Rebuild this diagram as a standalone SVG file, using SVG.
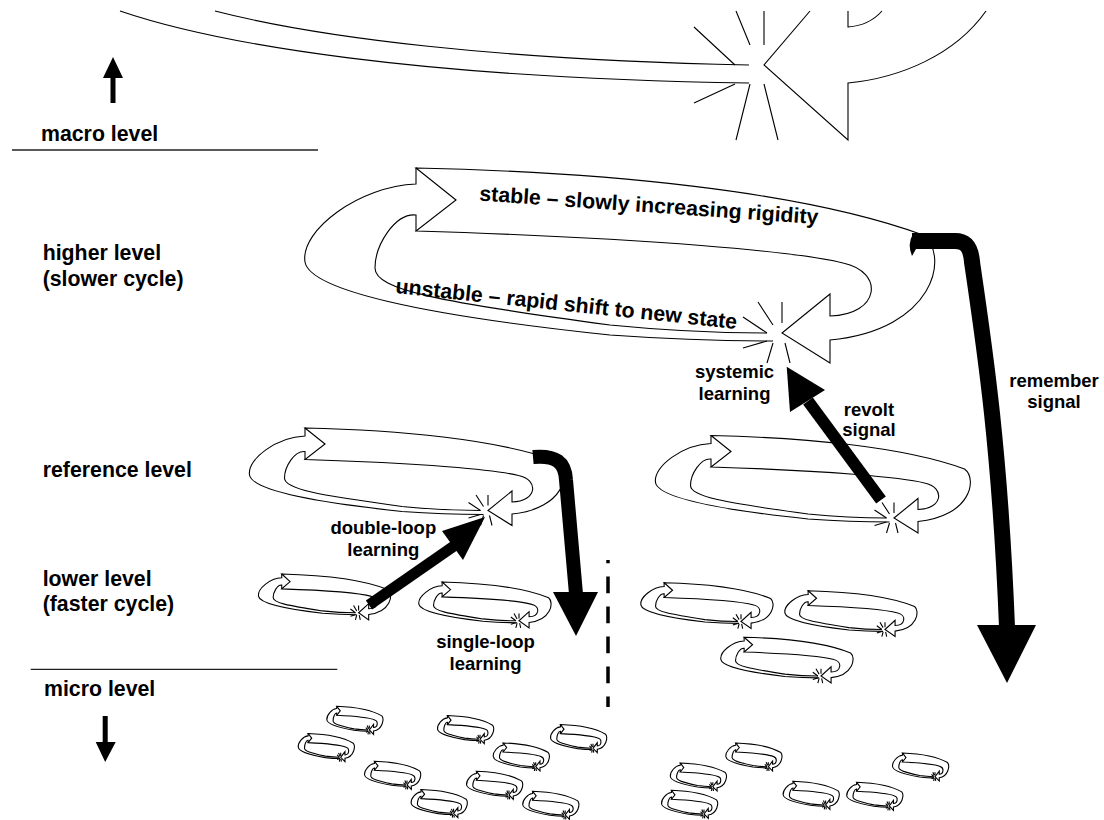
<svg xmlns="http://www.w3.org/2000/svg" width="1104" height="820" viewBox="0 0 1104 820">
<style>
.ln{fill:none;stroke:#000;stroke-width:1.1}
.lb{fill:#fff;stroke:#000;stroke-width:1.1;stroke-linejoin:miter}
.rule{stroke:#222;stroke-width:1.3}
.t{font-family:"Liberation Sans",Arial,Helvetica,sans-serif;font-weight:bold;fill:#000}
.big{font-size:21.3px}
.sm{font-size:18.5px;text-anchor:middle}
.blk{fill:#000;stroke:none}
.shaft{fill:none;stroke:#000}
</style>
<defs>
<g id="cyc">
<path class="lb" vector-effect="non-scaling-stroke" d="M-326,-133 L-366,-165 C-182,-161 18,-143 141,-98 C168,-78 153,-3 48,7 L48,30 L0,0 L48,-39 L48,-17 C98,-18 103,-61 61,-70 C18,-81 -132,-95 -366,-102 Z"/>
<path class="ln" vector-effect="non-scaling-stroke" d="M-366,-165 L-366,-149 C-422,-147 -482,-103 -477,-71 C-472,-43 -362,-18 -172,2 C-102,7 -42,8 -9,8"/>
<path class="ln" vector-effect="non-scaling-stroke" d="M-366,-102 L-366,-118 C-387,-120 -407,-88 -407,-65 C-407,-43 -342,-31 -172,-8 C-102,-1 -42,0 -15,0"/>
<path class="ln" vector-effect="non-scaling-stroke" d="M-24,-31 L-9,-8 M0,-31 L0,-10 M-39,-16 L-15,0 M-39,15 L-15,8 M-15,30 L-9,10 M8,30 L3,10"/>
</g>
</defs>
<rect width="1104" height="820" fill="#fff"/>

<g id="level-labels">
<path class="blk" d="M110.5,103 L115.5,103 L115.5,78 L123,78 L113,57 L103,78 L110.5,78 Z"/>
<text class="t big" x="41" y="141">macro level</text>
<line class="rule" x1="12" y1="150" x2="318" y2="150"/>
<text class="t big" x="42.7" y="260">higher level</text>
<text class="t big" x="42.7" y="285.7">(slower cycle)</text>
<text class="t big" x="42.7" y="476.7">reference level</text>
<text class="t big" x="42.7" y="585.7">lower level</text>
<text class="t big" x="42.7" y="611">(faster cycle)</text>
<line class="rule" x1="30.7" y1="669.3" x2="337.3" y2="669.3"/>
<text class="t big" x="44" y="696">micro level</text>
<path class="blk" d="M102.7,716 L107.7,716 L107.7,742 L115.7,742 L105.2,762 L95.7,742 L102.7,742 Z"/>
</g>

<g id="macro-cycle">
<path class="ln" d="M215,11 C320,38 500,60 749,65"/>
<path class="ln" d="M120,11 C220,45 420,78 749,83"/>
<path class="ln" d="M694,27 L735,65 M736,11 L750,45 M764,11 L764,45 M694,103 L735,84 M736,140 L750,84 M778,140 L764,84"/>
<path class="ln" d="M810,11 L764,65 L848,140 L848,83 C900,78 955,55 986,11"/>
<path class="ln" d="M848,11 L848,27 C862,26 874,20 882,11"/>
</g>

<g id="higher-cycle">
<use href="#cyc" transform="translate(782,333)"/>
<text class="t big" x="479" y="200.5" transform="rotate(4 479 200.5)">stable – slowly increasing rigidity</text>
<text class="t big" x="395" y="293" transform="rotate(6 395 293)">unstable – rapid shift to new state</text>
</g>

<g id="reference-cycle-left"><use href="#cyc" transform="translate(488,510.5) scale(0.5)"/></g>
<g id="reference-cycle-right"><use href="#cyc" transform="translate(894,518) scale(0.5)"/></g>

<g id="lower-cycle-1"><use href="#cyc" transform="translate(358.6,612.8) scale(0.21,0.235)"/></g>
<g id="lower-cycle-2"><use href="#cyc" transform="translate(519,620.8) scale(0.21,0.235)"/></g>
<g id="lower-cycle-3"><use href="#cyc" transform="translate(741,621.5) scale(0.21,0.235)"/></g>
<g id="lower-cycle-4"><use href="#cyc" transform="translate(885,629.5) scale(0.21,0.235)"/></g>
<g id="lower-cycle-5"><use href="#cyc" transform="translate(821,676) scale(0.21,0.235)"/></g>

<g id="micro-cycles">
<g id="micro-1"><use href="#cyc" transform="translate(369.3,730) scale(0.089,0.144)"/></g>
<g id="micro-2"><use href="#cyc" transform="translate(340.7,757.3) scale(0.089,0.144)"/></g>
<g id="micro-3"><use href="#cyc" transform="translate(480,739.3) scale(0.089,0.144)"/></g>
<g id="micro-4"><use href="#cyc" transform="translate(407,785) scale(0.089,0.144)"/></g>
<g id="micro-5"><use href="#cyc" transform="translate(453.6,813.3) scale(0.089,0.144)"/></g>
<g id="micro-6"><use href="#cyc" transform="translate(535.7,766.7) scale(0.089,0.144)"/></g>
<g id="micro-7"><use href="#cyc" transform="translate(509,795) scale(0.089,0.144)"/></g>
<g id="micro-8"><use href="#cyc" transform="translate(593,748.3) scale(0.089,0.144)"/></g>
<g id="micro-9"><use href="#cyc" transform="translate(565.2,815) scale(0.089,0.144)"/></g>
<g id="micro-10"><use href="#cyc" transform="translate(768.3,766.7) scale(0.089,0.144)"/></g>
<g id="micro-11"><use href="#cyc" transform="translate(712.8,786.7) scale(0.089,0.144)"/></g>
<g id="micro-12"><use href="#cyc" transform="translate(704,814) scale(0.089,0.144)"/></g>
<g id="micro-13"><use href="#cyc" transform="translate(825.6,805) scale(0.089,0.144)"/></g>
<g id="micro-14"><use href="#cyc" transform="translate(889.2,806) scale(0.089,0.144)"/></g>
<g id="micro-15"><use href="#cyc" transform="translate(935,776.7) scale(0.089,0.144)"/></g>
</g>

<g id="connectors">
<g id="remember-signal">
<path class="shaft" stroke-width="16" d="M912,241 L955,241 C967,241 971,249 972,262 C985,350 1000,450 1007,627"/>
<path class="blk" d="M913,234 Q907,244 912,256 L916,249 L924,249 L924,240 Z"/>
<polygon class="blk" points="977,625 1036,625 1007,683"/>
</g>
<g id="remember-signal-small">
<path class="shaft" stroke-width="14" d="M533,457 C556,455 565,462 566,480 L576,594"/>
<polygon class="blk" points="553,592 598,592 576,636"/>
</g>
<g id="double-loop-arrow">
<path class="shaft" stroke-width="11" d="M369,605 L454,546"/>
<polygon class="blk" points="442,531 463,560 485,517"/>
</g>
<g id="revolt-arrow">
<path class="shaft" stroke-width="12" d="M881,500 L808,401"/>
<polygon class="blk" points="790,412 825,390 786.7,366.7"/>
</g>
<line id="divider" x1="608" y1="560" x2="608" y2="707" stroke="#000" stroke-width="3.5" stroke-dasharray="16.7 13.3" stroke-dashoffset="13.4"/>
</g>

<g id="labels">
<text class="t sm" x="734.5" y="378.3">systemic</text>
<text class="t sm" x="734.5" y="400">learning</text>
<text class="t sm" x="869" y="415.5">revolt</text>
<text class="t sm" x="869" y="436">signal</text>
<text class="t sm" x="1054" y="386.5">remember</text>
<text class="t sm" x="1054" y="408">signal</text>
<text class="t sm" x="383.3" y="534">double-loop</text>
<text class="t sm" x="383.3" y="556">learning</text>
<text class="t sm" x="485.5" y="648">single-loop</text>
<text class="t sm" x="485.5" y="670">learning</text>
</g>
</svg>
